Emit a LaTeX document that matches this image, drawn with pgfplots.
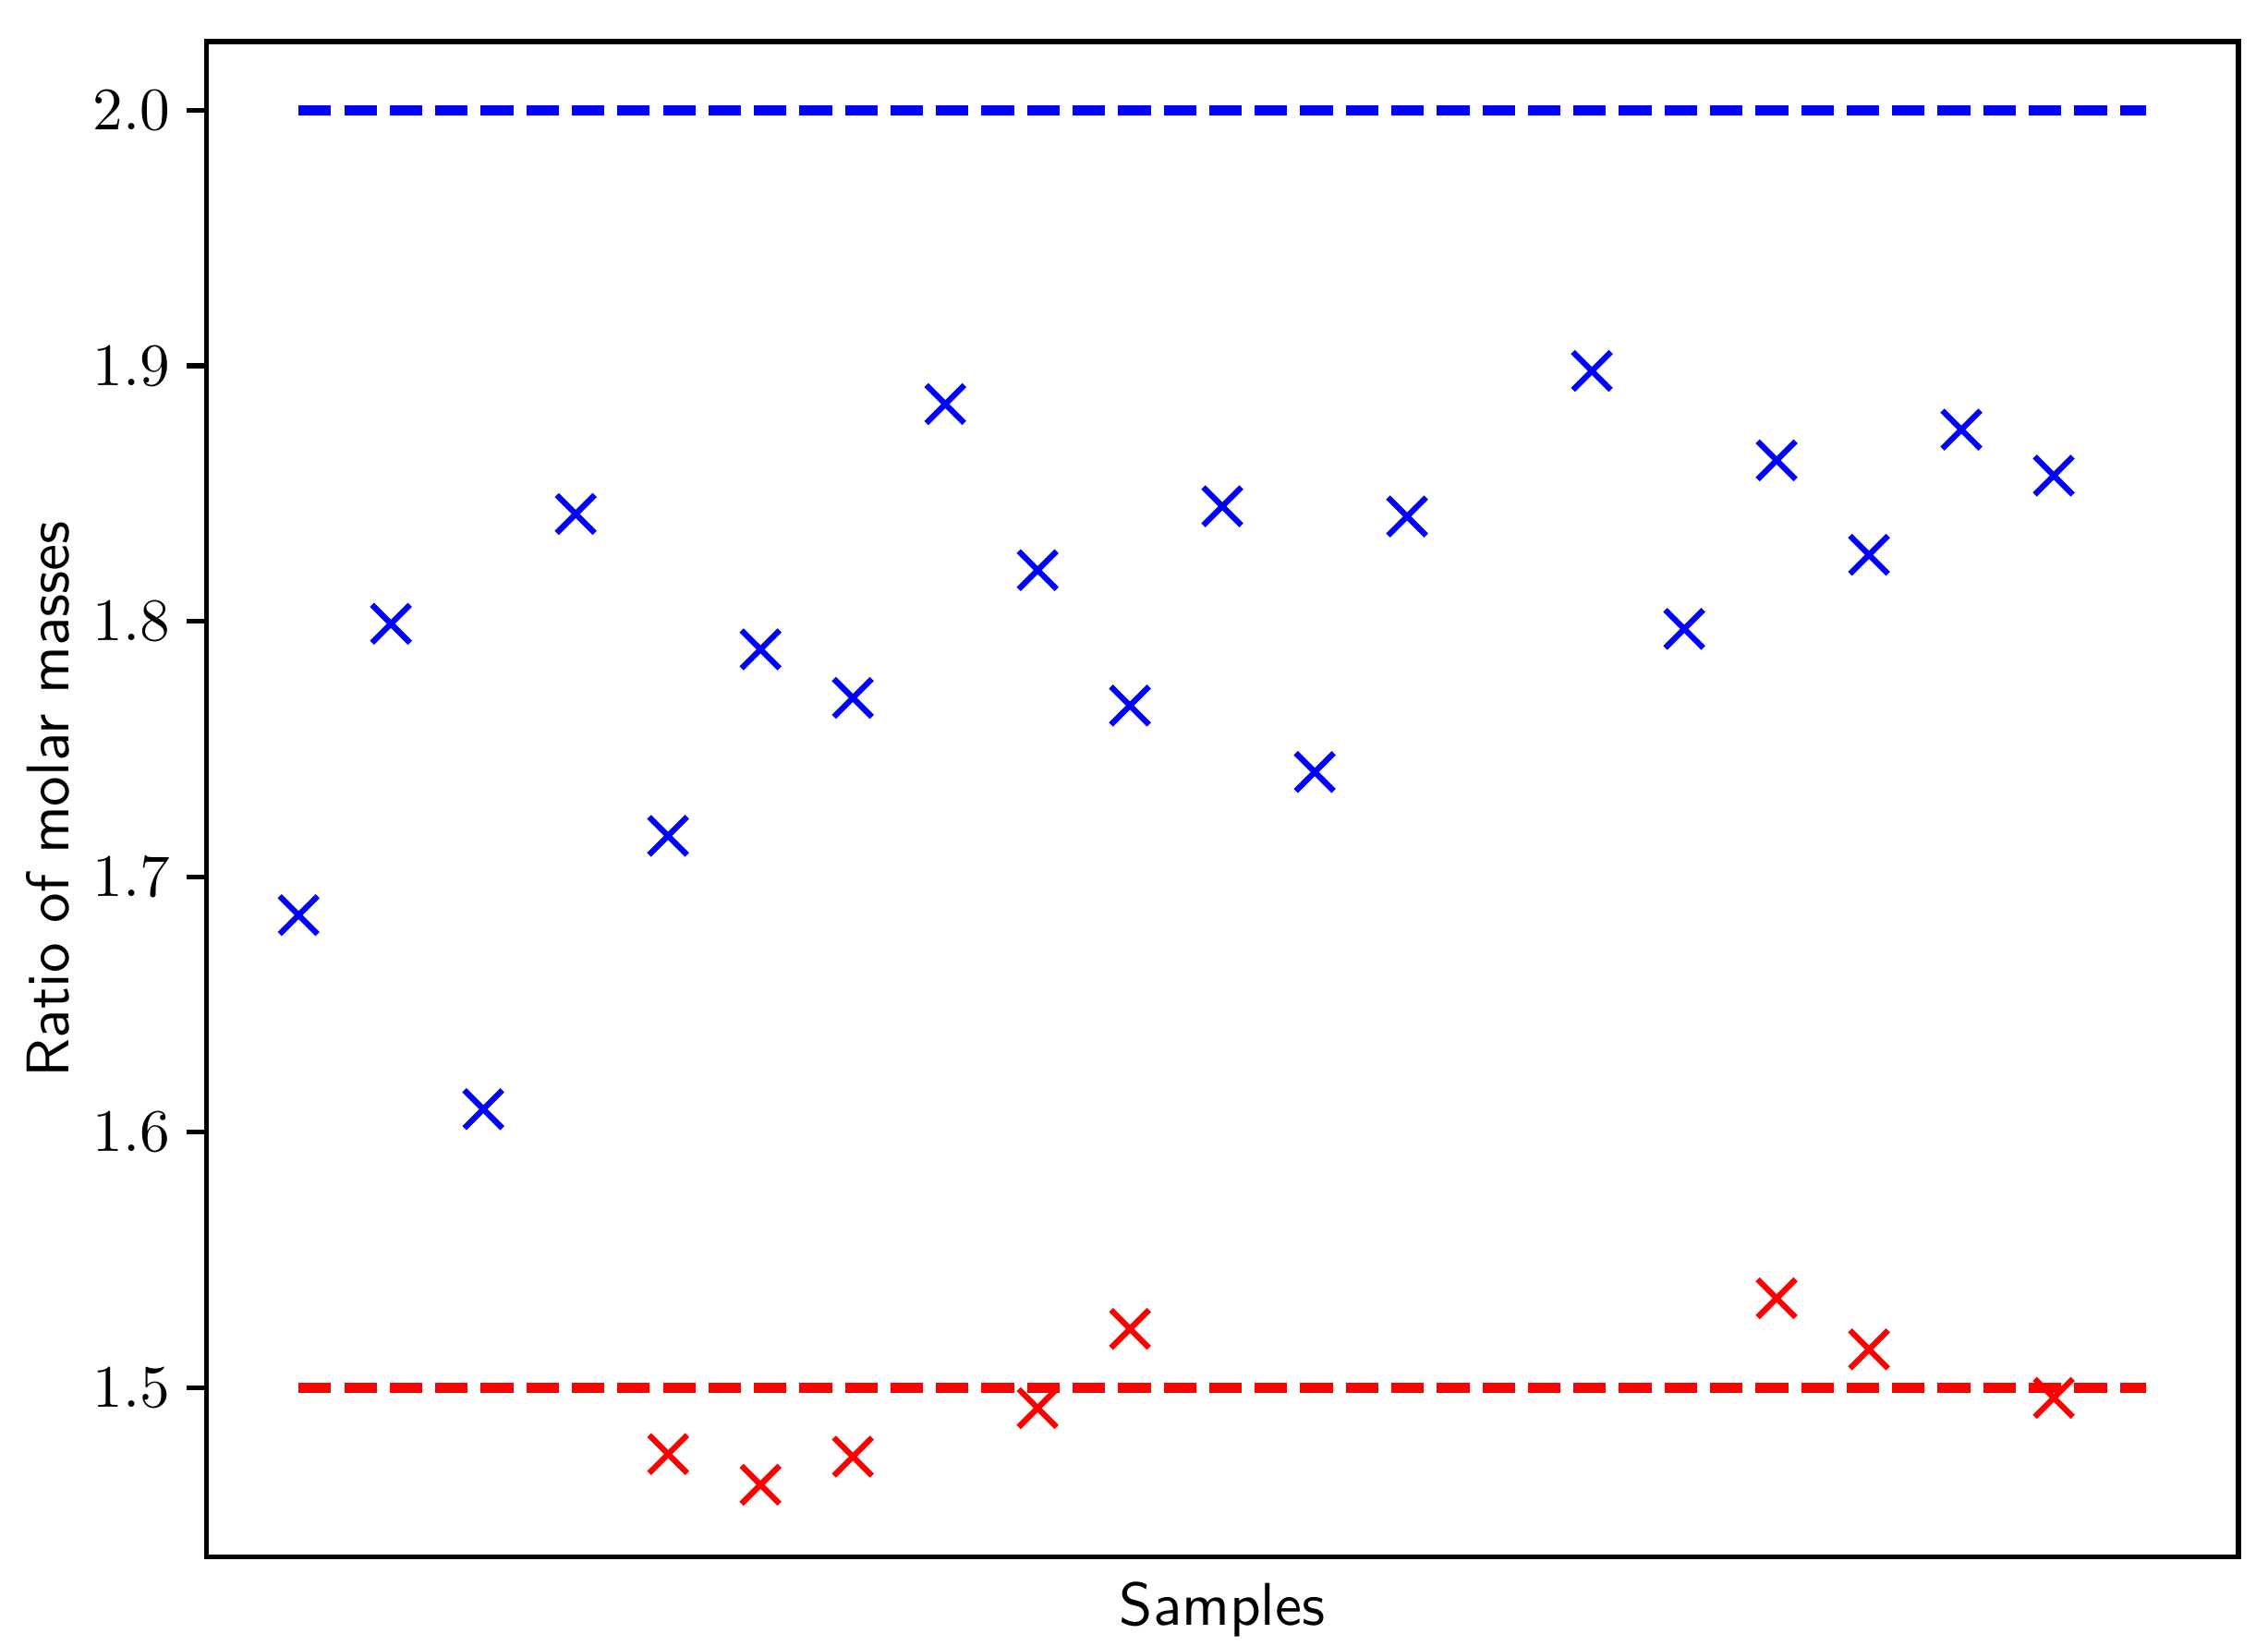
\documentclass[border=0pt]{standalone}
\usepackage{pgfplots}
\pgfplotsset{compat=1.18}

\begin{document}
\begin{tikzpicture}
\begin{axis}[
    scale only axis,
    width=337pt, height=251.3pt,
    xmin=-1, xmax=21,
    ymin=1.4338, ymax=2.0269,
    xtick=\empty,
    ytick={1.5,1.6,1.7,1.8,1.9,2.0},
    yticklabel style={xshift=0.7pt, /pgf/number format/fixed, /pgf/number format/precision=1, /pgf/number format/fixed zerofill},
    tick align=outside,
    ytick pos=left,
    major tick length=3.2pt,
    axis line style={line width=0.8pt},
    every tick/.style={black, line width=0.8pt},
    xlabel={\sffamily Samples},
    ylabel={\sffamily Ratio of molar masses},
    xlabel style={at={(axis description cs:0.5,0)}, anchor=north, inner sep=0pt, yshift=-4pt},
    ylabel style={inner sep=0pt, yshift=0.4pt},
    clip=false,
]
% reference ratios
\addplot[blue, line width=1.76pt, dash pattern=on 5.4pt off 2.15pt, forget plot] coordinates {(0,2.0) (20,2.0)};
\addplot[red, line width=1.76pt, dash pattern=on 5.4pt off 2.15pt, forget plot] coordinates {(0,1.5) (20,1.5)};

% measured samples
\addplot[only marks, mark=x, mark size=4.45pt, mark options={line width=0.95pt}, color=blue] coordinates {
    (0,1.685) (1,1.799) (2,1.609) (3,1.842) (4,1.716) (5,1.789) (6,1.770)
    (7,1.885) (8,1.820) (9,1.767) (10,1.845) (11,1.741) (12,1.841)
    (14,1.898) (15,1.797) (16,1.863) (17,1.826) (18,1.875) (19,1.857)
};
\addplot[only marks, mark=x, mark size=4.45pt, mark options={line width=0.95pt}, color=red] coordinates {
    (4,1.474) (5,1.462) (6,1.473) (8,1.492) (9,1.523)
    (16,1.535) (17,1.515) (19,1.496)
};
\end{axis}
\path (current axis.south west) ++(-34.2pt,-14.7pt);
\path (current axis.north east) ++(4.9pt,6.9pt);
\end{tikzpicture}
\end{document}
